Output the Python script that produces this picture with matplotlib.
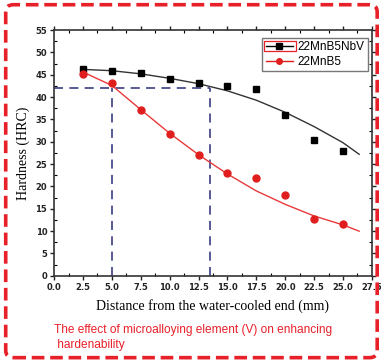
import matplotlib.pyplot as plt
from matplotlib.patches import FancyBboxPatch, Rectangle
from matplotlib.ticker import MultipleLocator

# measured points
x_pts = [2.5, 5.0, 7.5, 10.0, 12.5, 15.0, 17.5, 20.0, 22.5, 25.0]
nbv_pts = [46.2, 45.8, 45.3, 44.1, 43.2, 42.5, 41.8, 35.9, 30.4, 28.0]
mnb_pts = [45.2, 43.2, 37.1, 31.7, 27.1, 23.0, 21.8, 18.0, 12.8, 11.6]

# fitted trend lines
x_fit = [2.5, 5.0, 7.5, 10.0, 12.5, 15.0, 17.5, 20.0, 22.5, 25.0, 26.4]
nbv_fit = [46.2, 45.9, 45.2, 44.2, 43.0, 41.4, 39.3, 36.6, 33.4, 29.8, 27.2]
mnb_fit = [45.6, 42.6, 37.2, 31.9, 27.1, 22.8, 19.0, 16.0, 13.4, 11.4, 10.0]

# 42 HRC guide lines
hrc_level = 42
x_cross = [5.0, 13.5]

fig = plt.figure(figsize=(3.81, 3.62), dpi=100)
ax = fig.add_axes([0.142, 0.238, 0.834, 0.679])

guide = dict(color='#4a4c8c', lw=1.3, ls=(0, (5, 3.5)))
ax.plot([0, x_cross[1]], [hrc_level, hrc_level], **guide)
for xc in x_cross:
    ax.plot([xc, xc], [0, hrc_level], **guide)

ax.plot(x_fit, nbv_fit, color='#333333', lw=1.0)
ax.plot(x_fit, mnb_fit, color='#e8393a', lw=1.0)
ax.plot(x_pts, nbv_pts, 's', color='black', ms=5)
ax.plot(x_pts, mnb_pts, 'o', color='#e01e1e', ms=5)

# legend with line+marker handles
h1, = ax.plot([], [], '-s', color='black', ms=4, lw=1.0)
h2, = ax.plot([], [], '-o', color='#e01e1e', ms=4, lw=1.0)
leg = ax.legend([h1, h2], ['22MnB5NbV', '22MnB5'], loc='upper right',
                bbox_to_anchor=(0.988, 0.968), borderaxespad=0,
                frameon=True, fancybox=False, edgecolor='#555555',
                handlelength=2.3, borderpad=0.3, labelspacing=0.2,
                handletextpad=0.4,
                prop={'family': 'Liberation Sans', 'size': 8.5})
leg.get_frame().set_linewidth(1.0)

ax.set_xlim(0, 27.5)
ax.set_ylim(0, 55)
ax.xaxis.set_major_locator(MultipleLocator(2.5))
ax.xaxis.set_minor_locator(MultipleLocator(1.25))
ax.yaxis.set_major_locator(MultipleLocator(5))
ax.yaxis.set_minor_locator(MultipleLocator(2.5))
ax.tick_params(which='major', direction='out', length=3, width=1.0,
               labelsize=6, pad=2, colors='#222222')
ax.tick_params(which='minor', direction='in', length=2, width=0.8)
ax.tick_params(which='both', top=True, right=True)
for lab in ax.get_xticklabels() + ax.get_yticklabels():
    lab.set_fontweight('bold')
for s in ax.spines.values():
    s.set_linewidth(1.2)
    s.set_color('#333333')

ax.set_xlabel('Distance from the water-cooled end (mm)', family='Liberation Serif',
              fontsize=10, labelpad=5)
ax.set_ylabel('Hardness (HRC)', family='Liberation Serif', fontsize=10, labelpad=4)

fig.text(0.142, 0.105, 'The effect of microalloying element (V) on enhancing\n hardenability',
         color='#e8202a', family='Liberation Sans', fontsize=8.6, va='top',
         linespacing=1.3)

border = FancyBboxPatch((0.015, 0.012), 0.975, 0.975, transform=fig.transFigure,
                        boxstyle='round,pad=0,rounding_size=0.02', fill=False,
                        edgecolor='#e8202a', lw=2.6, ls=(0, (3.5, 1.6)))
fig.patches.append(border)

# red selection box around first legend handle
fig.canvas.draw()
hb = leg.legend_handles[0].get_window_extent()
cy = (hb.y0 + hb.y1) / 2
fig.patches.append(Rectangle((hb.x0 + 1, cy - 5), hb.width - 1, 10,
                             transform=None, fill=False,
                             edgecolor='#e8202a', lw=0.9))

fig.savefig('out.png', dpi=100)
